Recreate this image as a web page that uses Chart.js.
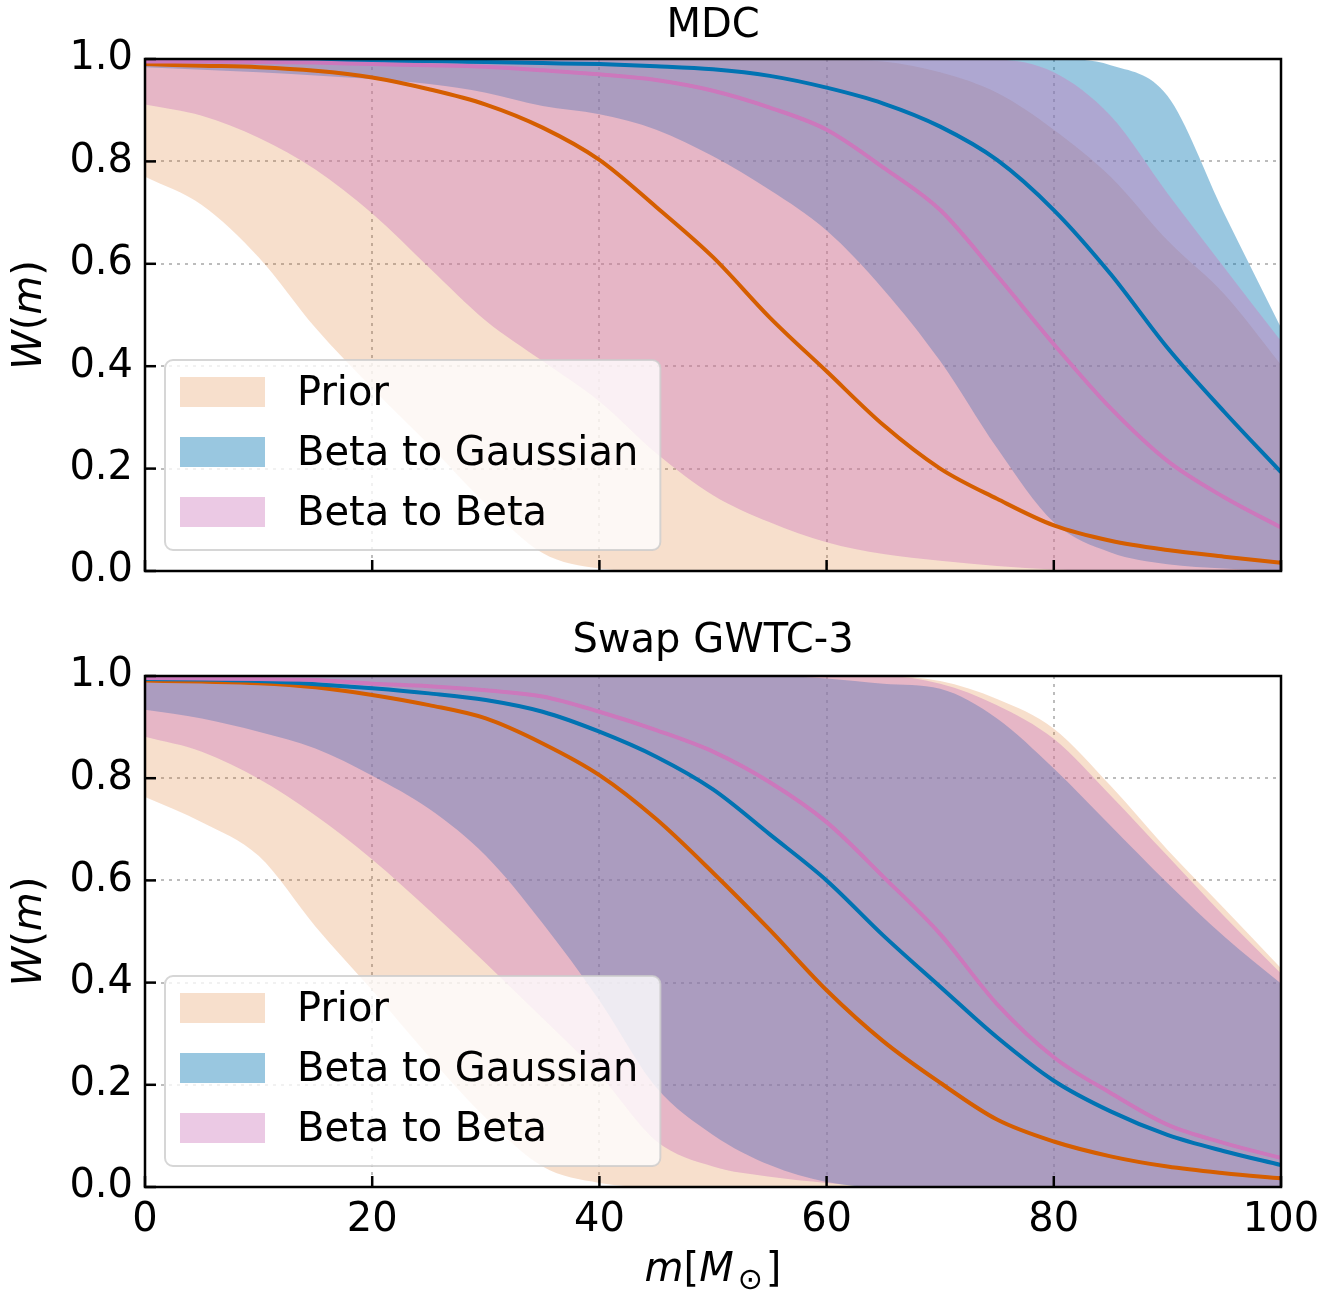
<!DOCTYPE html>
<html>
<head>
<meta charset="utf-8">
<title>W(m) – MDC / Swap GWTC-3</title>
<script src="https://cdn.jsdelivr.net/npm/chart.js@4.4.1/dist/chart.umd.min.js"></script>
<style>
  html, body { margin: 0; padding: 0; background: #fff; }
  #wrap { position: relative; width: 1343px; height: 1296px; }
  canvas { position: absolute; left: 0; }
  #top { top: 0; }
  #bottom { top: 615px; }
</style>
</head>
<body>
<div id="wrap">
  <canvas id="top" width="1343" height="615"></canvas>
  <canvas id="bottom" width="1343" height="681"></canvas>
</div>
<script>
// mass grid (M_sun)
const masses = [0, 5, 10, 15, 20, 25, 30, 35, 40, 45, 50, 55, 60, 65, 70, 75, 80, 85, 90, 95, 100];
const xTicks = [0, 20, 40, 60, 80, 100];
const yTicks = [0, 0.2, 0.4, 0.6, 0.8, 1.0];

// MDC panel
const mdcPriorLow  = [0.770, 0.715, 0.613, 0.475, 0.357, 0.246, 0.131, 0.035, 0.005, 0, 0, 0, 0, 0, 0, 0, 0, 0, 0, 0, 0];
const mdcPriorMid  = [0.990, 0.987, 0.984, 0.977, 0.964, 0.941, 0.911, 0.866, 0.803, 0.711, 0.613, 0.495, 0.390, 0.285, 0.200, 0.141, 0.089, 0.059, 0.041, 0.028, 0.016];
const mdcPriorHigh = [1, 1, 1, 1, 1, 1, 1, 1, 1, 1, 1, 1, 0.999, 0.995, 0.974, 0.934, 0.862, 0.770, 0.646, 0.541, 0.403];
const mdcGaussLow  = [0.984, 0.979, 0.974, 0.968, 0.961, 0.951, 0.934, 0.908, 0.892, 0.862, 0.810, 0.744, 0.665, 0.550, 0.410, 0.240, 0.095, 0.036, 0.013, 0.005, 0.001];
const mdcGaussMid  = [0.999, 0.999, 0.998, 0.998, 0.997, 0.996, 0.994, 0.992, 0.990, 0.986, 0.980, 0.967, 0.944, 0.913, 0.868, 0.803, 0.705, 0.580, 0.436, 0.311, 0.193];
const mdcGaussHigh = [1, 1, 1, 1, 1, 1, 1, 1, 1, 1, 1, 1, 1, 1, 1, 1, 1, 0.988, 0.928, 0.698, 0.475];
const mdcBetaLow   = [0.911, 0.889, 0.846, 0.784, 0.698, 0.593, 0.489, 0.410, 0.331, 0.230, 0.148, 0.095, 0.056, 0.033, 0.020, 0.010, 0.003, 0, 0, 0, 0];
const mdcBetaMid   = [0.995, 0.995, 0.994, 0.993, 0.990, 0.988, 0.985, 0.978, 0.970, 0.959, 0.938, 0.905, 0.862, 0.788, 0.705, 0.577, 0.443, 0.318, 0.215, 0.144, 0.085];
const mdcBetaHigh  = [1, 1, 1, 1, 1, 1, 1, 1, 1, 1, 1, 1, 1, 1, 1, 0.999, 0.974, 0.889, 0.738, 0.593, 0.449];

// Swap GWTC-3 panel
const swapPriorLow  = [0.763, 0.714, 0.648, 0.510, 0.385, 0.255, 0.135, 0.040, 0.008, 0, 0, 0, 0, 0, 0, 0, 0, 0, 0, 0, 0];
const swapPriorMid  = [0.991, 0.989, 0.986, 0.978, 0.963, 0.943, 0.917, 0.868, 0.806, 0.720, 0.615, 0.503, 0.385, 0.285, 0.204, 0.132, 0.089, 0.060, 0.040, 0.027, 0.017];
const swapPriorHigh = [1, 1, 1, 1, 1, 1, 1, 1, 1, 1, 1, 1, 1, 1, 0.990, 0.955, 0.897, 0.785, 0.660, 0.545, 0.428];
const swapGaussLow  = [0.934, 0.917, 0.891, 0.858, 0.805, 0.740, 0.648, 0.516, 0.365, 0.195, 0.102, 0.043, 0.010, 0, 0, 0, 0, 0, 0, 0, 0];
const swapGaussMid  = [0.994, 0.993, 0.990, 0.984, 0.976, 0.966, 0.953, 0.930, 0.891, 0.842, 0.778, 0.690, 0.600, 0.492, 0.392, 0.293, 0.208, 0.148, 0.102, 0.070, 0.043];
const swapGaussHigh = [1, 1, 1, 1, 1, 1, 1, 1, 1, 1, 1, 1, 0.995, 0.985, 0.975, 0.917, 0.819, 0.707, 0.595, 0.490, 0.398];
const swapBetaLow   = [0.881, 0.852, 0.799, 0.727, 0.641, 0.542, 0.438, 0.330, 0.220, 0.090, 0.040, 0.020, 0.008, 0, 0, 0, 0, 0, 0, 0, 0];
const swapBetaMid   = [0.996, 0.995, 0.994, 0.992, 0.985, 0.980, 0.972, 0.960, 0.930, 0.894, 0.852, 0.792, 0.714, 0.607, 0.495, 0.358, 0.254, 0.184, 0.122, 0.086, 0.057];
const swapBetaHigh  = [1, 1, 1, 1, 1, 1, 1, 1, 1, 1, 1, 1, 1, 1, 0.985, 0.943, 0.877, 0.766, 0.648, 0.530, 0.418];

const FONT = '"DejaVu Sans", sans-serif';
const lineColors = { prior: '#d55e00', gauss: '#0173b2', beta: '#cc78bc' };
const fillColors = { prior: 'rgba(213,94,0,0.2)', gauss: 'rgba(1,115,178,0.4)', beta: 'rgba(204,120,188,0.4)' };

function pts(arr) {
    return masses.map((m, i) => ({ x: m, y: arr[i] }));
}

function medianLine(arr, color) {
    return { data: pts(arr), borderColor: color, borderWidth: 4, pointRadius: 0, fill: false, cubicInterpolationMode: 'monotone' };
}

function edge(arr) {
    return { data: pts(arr), borderColor: 'rgba(0,0,0,0)', borderWidth: 1, pointRadius: 0, fill: false, cubicInterpolationMode: 'monotone' };
}

function band(arr, label, color) {
    // filled down to the next dataset (the lower edge)
    return { label: label, isBand: true, data: pts(arr), borderColor: 'rgba(0,0,0,0)', borderWidth: 1,
             backgroundColor: color, pointRadius: 0, fill: '+1', cubicInterpolationMode: 'monotone' };
}

// index 0 is drawn last, so lines come first, prior band last
function buildDatasets(p) {
    return [
        medianLine(p.betaMid, lineColors.beta),
        medianLine(p.gaussMid, lineColors.gauss),
        medianLine(p.priorMid, lineColors.prior),
        band(p.betaHigh, 'Beta to Beta', fillColors.beta),
        edge(p.betaLow),
        band(p.gaussHigh, 'Beta to Gaussian', fillColors.gauss),
        edge(p.gaussLow),
        band(p.priorHigh, 'Prior', fillColors.prior),
        edge(p.priorLow)
    ];
}

function drawPieces(ctx, pieces, cx, cy) {
    let total = 0;
    pieces.forEach(pc => {
        ctx.font = pc.font;
        pc.w = ctx.measureText(pc.t).width;
        total += pc.w + (pc.gap || 0);
    });
    let x = cx - total / 2;
    ctx.textAlign = 'left';
    ctx.textBaseline = 'middle';
    pieces.forEach(pc => {
        ctx.font = pc.font;
        ctx.fillText(pc.t, x, cy + (pc.dy || 0));
        x += pc.w + (pc.gap || 0);
    });
}

const panelPlugin = {
    id: 'panel',
    afterDraw(chart, args, opts) {
        const ctx = chart.ctx;
        const a = chart.chartArea;
        const xs = chart.scales.x;
        const ys = chart.scales.y;
        ctx.save();

        // legend box
        const items = chart.data.datasets.filter(d => d.isBand).reverse();
        ctx.font = '40px ' + FONT;
        const textW = Math.max(...items.map(d => ctx.measureText(d.label).width));
        const w = 132 + textW + 22, h = 190;
        const x0 = a.left + 20, y0 = a.bottom - 21 - h;
        ctx.beginPath();
        ctx.roundRect(x0, y0, w, h, 8);
        ctx.fillStyle = 'rgba(255,255,255,0.8)';
        ctx.fill();
        ctx.lineWidth = 2;
        ctx.strokeStyle = 'rgba(204,204,204,0.8)';
        ctx.stroke();
        items.forEach((d, i) => {
            const cy = y0 + 32 + i * 60;
            ctx.fillStyle = d.backgroundColor;
            ctx.fillRect(x0 + 15, cy - 15, 85, 30);
            ctx.fillStyle = '#000';
            ctx.textAlign = 'left';
            ctx.textBaseline = 'middle';
            ctx.fillText(d.label, x0 + 132, cy + 3);
        });

        // inward tick marks on left and bottom
        ctx.strokeStyle = '#000';
        ctx.lineWidth = 2.5;
        ys.ticks.forEach(t => {
            const y = ys.getPixelForValue(t.value);
            ctx.beginPath();
            ctx.moveTo(a.left, y);
            ctx.lineTo(a.left + 11, y);
            ctx.stroke();
        });
        xs.ticks.forEach(t => {
            const x = xs.getPixelForValue(t.value);
            ctx.beginPath();
            ctx.moveTo(x, a.bottom);
            ctx.lineTo(x, a.bottom - 11);
            ctx.stroke();
        });

        // frame
        ctx.strokeRect(a.left, a.top, a.right - a.left, a.bottom - a.top);

        // title
        ctx.fillStyle = '#000';
        ctx.font = '40px ' + FONT;
        ctx.textAlign = 'center';
        ctx.textBaseline = 'middle';
        ctx.fillText(opts.title, (a.left + a.right) / 2, 27);

        // y label W(m)
        ctx.save();
        ctx.translate(31, (a.top + a.bottom) / 2);
        ctx.rotate(-Math.PI / 2);
        drawPieces(ctx, [
            { t: 'W', font: 'italic 40px ' + FONT },
            { t: '(', font: '40px ' + FONT },
            { t: 'm', font: 'italic 40px ' + FONT },
            { t: ')', font: '40px ' + FONT }
        ], 0, 0);
        ctx.restore();

        // x label m[M_sun]
        if (opts.xLabel) {
            drawPieces(ctx, [
                { t: 'm', font: 'italic 40px ' + FONT },
                { t: '[', font: '40px ' + FONT },
                { t: 'M', font: 'italic 40px ' + FONT, gap: 4 },
                { t: '\u2299', font: '30px ' + FONT, dy: 10, gap: 3 },
                { t: ']', font: '40px ' + FONT }
            ], (a.left + a.right) / 2, 656);
        }
        ctx.restore();
    }
};

function makeChart(id, p, title, showX) {
    const ctx = document.getElementById(id).getContext('2d');
    return new Chart(ctx, {
        type: 'line',
        data: { datasets: buildDatasets(p) },
        plugins: [panelPlugin],
        options: {
            responsive: false,
            animation: false,
            layout: { padding: { top: showX ? 61 : 59, right: 62, left: 0, bottom: 0 } },
            plugins: {
                legend: { display: false },
                tooltip: { enabled: false },
                filler: { drawTime: 'beforeDatasetDraw' },
                panel: { title: title, xLabel: showX }
            },
            scales: {
                x: {
                    type: 'linear',
                    min: 0,
                    max: 100,
                    afterBuildTicks: scale => { scale.ticks = xTicks.map(v => ({ value: v })); },
                    afterFit: scale => { scale.height = showX ? 109 : 44; },
                    ticks: { display: showX, color: '#000', padding: 10, font: { family: FONT, size: 40 }, autoSkip: false },
                    grid: { color: 'rgba(176,176,176,0.85)', lineWidth: 2, drawTicks: false },
                    border: { display: false, dash: [3, 5] }
                },
                y: {
                    min: 0,
                    max: 1,
                    afterBuildTicks: scale => { scale.ticks = yTicks.map(v => ({ value: v })); },
                    afterFit: scale => { scale.width = 145; },
                    ticks: { color: '#000', padding: 12, font: { family: FONT, size: 40 }, autoSkip: false,
                             callback: v => Number(v).toFixed(1) },
                    grid: { color: 'rgba(176,176,176,0.85)', lineWidth: 2, drawTicks: false },
                    border: { display: false, dash: [3, 5] }
                }
            }
        }
    });
}

makeChart('top', {
    priorLow: mdcPriorLow, priorMid: mdcPriorMid, priorHigh: mdcPriorHigh,
    gaussLow: mdcGaussLow, gaussMid: mdcGaussMid, gaussHigh: mdcGaussHigh,
    betaLow: mdcBetaLow, betaMid: mdcBetaMid, betaHigh: mdcBetaHigh
}, 'MDC', false);

makeChart('bottom', {
    priorLow: swapPriorLow, priorMid: swapPriorMid, priorHigh: swapPriorHigh,
    gaussLow: swapGaussLow, gaussMid: swapGaussMid, gaussHigh: swapGaussHigh,
    betaLow: swapBetaLow, betaMid: swapBetaMid, betaHigh: swapBetaHigh
}, 'Swap GWTC-3', true);
</script>
</body>
</html>
